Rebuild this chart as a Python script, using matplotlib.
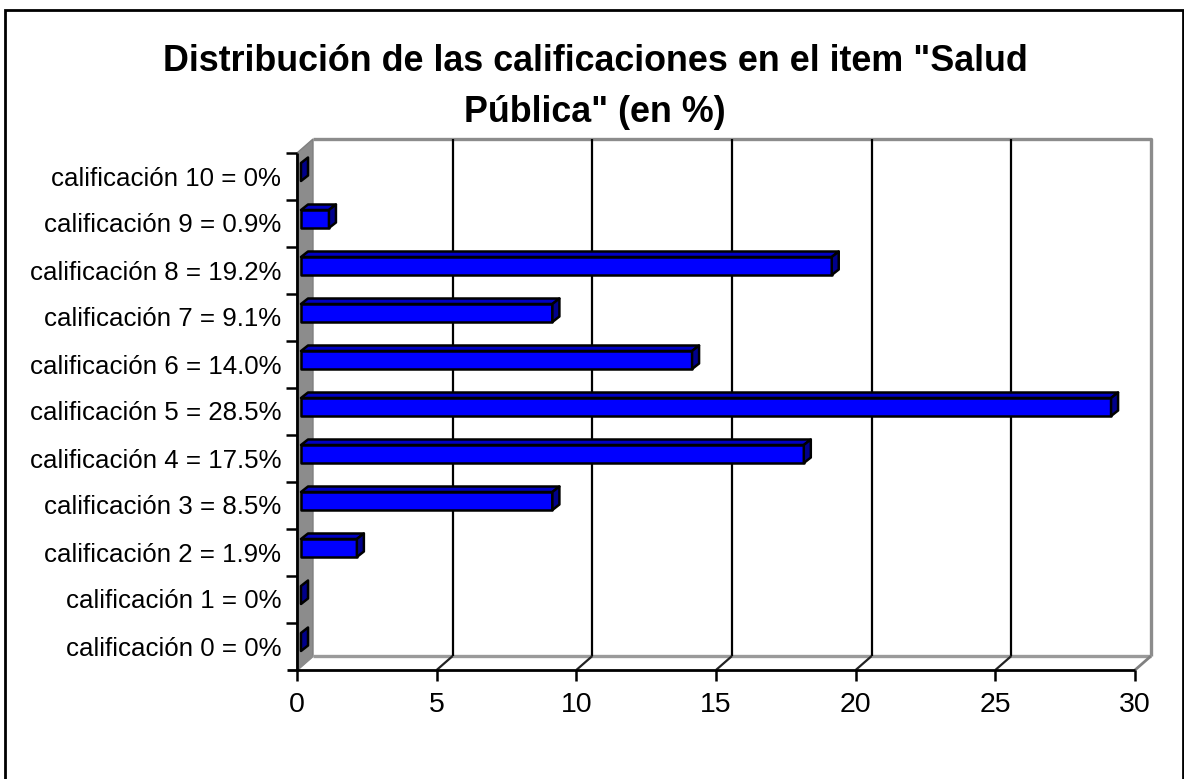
import matplotlib
matplotlib.use("Agg")
import matplotlib.pyplot as plt
from matplotlib.patches import Polygon, Rectangle

plt.rcParams['font.family'] = ['Liberation Sans', 'DejaVu Sans']

title = 'Distribución de las calificaciones en el item "Salud\nPública" (en %)'
labels = ['calificación 0 = 0%', 'calificación 1 = 0%', 'calificación 2 = 1.9%',
          'calificación 3 = 8.5%', 'calificación 4 = 17.5%', 'calificación 5 = 28.5%',
          'calificación 6 = 14.0%', 'calificación 7 = 9.1%', 'calificación 8 = 19.2%',
          'calificación 9 = 0.9%', 'calificación 10 = 0%']
values = [0, 0, 2, 9, 18, 29, 14, 9, 19, 1, 0]
xticks = [0, 5, 10, 15, 20, 25, 30]

W, H = 1184, 779
fig = plt.figure(figsize=(W / 100, H / 100), dpi=100)

# outer frame of the chart, bottom edge falls outside the picture
fig.add_artist(Rectangle((5 / W, -10 / H), 1178 / W, (H + 10 - 10) / H, transform=fig.transFigure,
                         fill=False, ec='black', lw=2))

# axes = front plane of the 3d box
x0, x1, y_bottom, y_top = 297, 1135, 670, 153
ax = fig.add_axes([x0 / W, 1 - y_bottom / H, (x1 - x0) / W, (y_bottom - y_top) / H])
ax.set_xlim(0, 30)
ax.set_ylim(0, len(labels))
ax.axis('off')

px = 30 / (x1 - x0)
py = len(labels) / (y_bottom - y_top)
wall_dx, wall_dy = 16 * px, 14 * py
xmax, ymax = 30, len(labels)


def poly(points, **kw):
    kw.setdefault('clip_on', False)
    ax.add_patch(Polygon(points, closed=True, **kw))


def line(xs, ys, **kw):
    ax.plot(xs, ys, clip_on=False, solid_capstyle='butt', **kw)


# side wall
poly([(0, 0), (wall_dx, wall_dy), (wall_dx, ymax + wall_dy), (0, ymax)], fc='#8c8c8c', ec='#808080', lw=1, zorder=1)

# grid on back wall and floor
for t in xticks[1:-1]:
    line([t + wall_dx, t + wall_dx], [wall_dy, ymax + wall_dy], color='black', lw=1.6, zorder=3)
    line([t, t + wall_dx], [0, wall_dy], color='#222222', lw=1.6, zorder=3)

# back wall outline
line([wall_dx, xmax + wall_dx, xmax + wall_dx], [ymax + wall_dy, ymax + wall_dy, wall_dy], color='#8c8c8c', lw=2.4, zorder=2)
line([wall_dx, xmax + wall_dx], [wall_dy, wall_dy], color='#9a9a9a', lw=2.4, zorder=2)
line([0, wall_dx], [0, wall_dy], color='#8c8c8c', lw=1.6, zorder=2)
line([xmax, xmax + wall_dx], [0, wall_dy], color='#808080', lw=2, zorder=2)

# bars
bar_x, bar_y = 4 * px, 4.5 * py
bar_h = 18 * py
depth_x, depth_y = 7 * px, 5.5 * py
for i, v in enumerate(values):
    x_l = bar_x
    x_r = bar_x + v
    y_b = i + 0.5 + bar_y - bar_h / 2
    y_t = y_b + bar_h
    edge = dict(ec='black', lw=1.8, zorder=4, joinstyle='round')
    if v > 0:
        poly([(x_l, y_t), (x_l + depth_x, y_t + depth_y), (x_r + depth_x, y_t + depth_y), (x_r, y_t)], fc='#0000c4', **edge)
        poly([(x_l, y_b), (x_r, y_b), (x_r, y_t), (x_l, y_t)], fc='#0000ff', **edge)
    poly([(x_r, y_b), (x_r + depth_x, y_b + depth_y), (x_r + depth_x, y_t + depth_y), (x_r, y_t)], fc='#00008c', **edge)

# front axes and ticks
line([0, 0], [0, ymax], color='black', lw=2, zorder=5)
line([-10 * px, xmax], [0, 0], color='black', lw=2, zorder=5)
for t in xticks:
    line([t, t], [0, -11 * py], color='black', lw=1.8, zorder=5)
    ax.text(t, -22 * py, str(t), ha='center', va='top', fontsize=20.5, color='black')
for j in range(1, len(labels) + 1):
    line([-11 * px, 0], [j, j], color='black', lw=1.8, zorder=5)
for i, lab in enumerate(labels):
    ax.text(-16 * px, i + 0.5 - 2 * py, lab, ha='right', va='center', fontsize=18.6, color='black')

fig.text(595 / W, 1 - 87 / H, title, ha='center', va='center', fontsize=25.8, fontweight='bold',
         color='black', linespacing=1.56)

fig.savefig('out.png', dpi=100, facecolor='white')
